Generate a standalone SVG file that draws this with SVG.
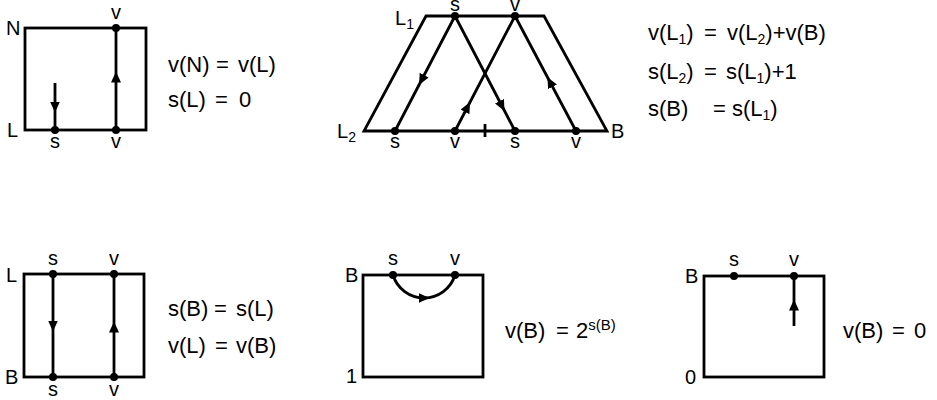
<svg xmlns="http://www.w3.org/2000/svg" width="937" height="400" viewBox="0 0 937 400">
<defs>
<style>
.box{fill:none;stroke:#000;stroke-width:2.8;stroke-linejoin:miter}
.str{fill:none;stroke:#000;stroke-width:2.8}
.dot{fill:#000}
.lbl{font-family:"Liberation Sans",Arial,sans-serif;font-size:20px;fill:#000}
.eq{font-family:"Liberation Sans",Arial,sans-serif;font-size:22px;fill:#000}
.sub{font-size:14px}
.sup{font-size:15px}
</style>
<marker id="ah" markerUnits="userSpaceOnUse" markerWidth="12" markerHeight="10" refX="5.5" refY="5" orient="auto">
<path d="M0,0 L11,5 L0,10 z" fill="#000"/>
</marker>
</defs>
<rect x="0" y="0" width="937" height="400" fill="#fff"/>

<g id="panel-N-L">
<rect class="box" x="25" y="28" width="121" height="102"/>
<circle class="dot" cx="116" cy="28" r="4"/>
<circle class="dot" cx="116" cy="130" r="4"/>
<circle class="dot" cx="55" cy="130" r="4"/>
<text class="lbl" x="6" y="35">N</text>
<text class="lbl" x="7" y="137">L</text>
<text class="lbl" x="116" y="19" text-anchor="middle">v</text>
<text class="lbl" x="55" y="148" text-anchor="middle">s</text>
<text class="lbl" x="116" y="148" text-anchor="middle">v</text>
<text class="eq" x="168" y="72">v(N)</text><text class="eq" x="216" y="72">=</text><text class="eq" x="238" y="72">v(L)</text>
<text class="eq" x="168" y="107">s(L)</text><text class="eq" x="215" y="107">=</text><text class="eq" x="239" y="107">0</text>
</g>

<g id="panel-L1-L2-B">
<polygon class="box" points="426,16 544,16 607,131 364,131"/>
<line class="str" x1="485" y1="124" x2="485" y2="137" stroke-width="3"/>
<circle class="dot" cx="455" cy="16" r="4"/>
<circle class="dot" cx="515" cy="16" r="4"/>
<circle class="dot" cx="395" cy="131" r="4"/>
<circle class="dot" cx="455" cy="131" r="4"/>
<circle class="dot" cx="515" cy="131" r="4"/>
<circle class="dot" cx="576" cy="131" r="4"/>
<text class="lbl" x="395" y="25">L<tspan class="sub" dy="4">1</tspan></text>
<text class="lbl" x="337" y="138">L<tspan class="sub" dy="4">2</tspan></text>
<text class="lbl" x="611" y="138">B</text>
<text class="lbl" x="455" y="11" text-anchor="middle">s</text>
<text class="lbl" x="515" y="11" text-anchor="middle">v</text>
<text class="lbl" x="395" y="148" text-anchor="middle">s</text>
<text class="lbl" x="455" y="148" text-anchor="middle">v</text>
<text class="lbl" x="515" y="148" text-anchor="middle">s</text>
<text class="lbl" x="576" y="148" text-anchor="middle">v</text>
<text class="eq" x="648" y="40">v(L<tspan class="sub" dy="4">1</tspan><tspan dy="-4">)</tspan></text>
<text class="eq" x="704" y="40">=</text>
<text class="eq" x="727" y="40">v(L<tspan class="sub" dy="4">2</tspan><tspan dy="-4">)+v(B)</tspan></text>
<text class="eq" x="648" y="79">s(L<tspan class="sub" dy="4">2</tspan><tspan dy="-4">)</tspan></text>
<text class="eq" x="704" y="79">=</text>
<text class="eq" x="726" y="79">s(L<tspan class="sub" dy="4">1</tspan><tspan dy="-4">)+1</tspan></text>
<text class="eq" x="648" y="116">s(B)</text>
<text class="eq" x="713" y="116">=</text>
<text class="eq" x="732" y="116">s(L<tspan class="sub" dy="4">1</tspan><tspan dy="-4">)</tspan></text>
</g>

<g id="panel-L-B">
<rect class="box" x="24" y="274" width="120" height="103"/>
<circle class="dot" cx="53" cy="274" r="4"/>
<circle class="dot" cx="114" cy="274" r="4"/>
<circle class="dot" cx="53" cy="377" r="4"/>
<circle class="dot" cx="114" cy="377" r="4"/>
<text class="lbl" x="6" y="282">L</text>
<text class="lbl" x="5" y="384">B</text>
<text class="lbl" x="53" y="265" text-anchor="middle">s</text>
<text class="lbl" x="114" y="265" text-anchor="middle">v</text>
<text class="lbl" x="53" y="396" text-anchor="middle">s</text>
<text class="lbl" x="114" y="396" text-anchor="middle">v</text>
<text class="eq" x="168" y="316">s(B)</text><text class="eq" x="214" y="316">=</text><text class="eq" x="236" y="316">s(L)</text>
<text class="eq" x="168" y="353">v(L)</text><text class="eq" x="215" y="353">=</text><text class="eq" x="236" y="353">v(B)</text>
</g>

<g id="panel-B-1">
<rect class="box" x="363" y="275" width="120" height="102"/>
<circle class="dot" cx="393" cy="275" r="4"/>
<circle class="dot" cx="455" cy="275" r="4"/>
<text class="lbl" x="345" y="282">B</text>
<text class="lbl" x="346" y="383">1</text>
<text class="lbl" x="393" y="265" text-anchor="middle">s</text>
<text class="lbl" x="455" y="265" text-anchor="middle">v</text>
<text class="eq" x="505" y="338">v(B)</text><text class="eq" x="556" y="338">=</text>
<text class="eq" x="576" y="338">2<tspan class="sup" dy="-8">s(B)</tspan></text>
</g>

<g id="panel-B-0">
<rect class="box" x="704" y="276" width="120" height="101"/>
<circle class="dot" cx="734" cy="276" r="4"/>
<circle class="dot" cx="794" cy="276" r="4"/>
<text class="lbl" x="685" y="283">B</text>
<text class="lbl" x="685" y="384">0</text>
<text class="lbl" x="734" y="266" text-anchor="middle">s</text>
<text class="lbl" x="794" y="266" text-anchor="middle">v</text>
<text class="eq" x="843" y="338">v(B)</text><text class="eq" x="892" y="338">=</text><text class="eq" x="914" y="338">0</text>
</g>

<g id="connectors">
<path class="str" marker-mid="url(#ah)" d="M116,130 L116,77 L116,28"/>
<path class="str" marker-mid="url(#ah)" d="M55,83 L55,107 L55,130"/>
<path class="str" marker-mid="url(#ah)" d="M455,16 L421.6,80 L395,131"/>
<path class="str" marker-mid="url(#ah)" d="M455,16 L502,106 L515,131"/>
<path class="str" marker-mid="url(#ah)" d="M455,131 L467.5,107 L515,16"/>
<path class="str" marker-mid="url(#ah)" d="M576,131 L550,82 L515,16"/>
<path class="str" marker-mid="url(#ah)" d="M53,274 L53,326 L53,377"/>
<path class="str" marker-mid="url(#ah)" d="M114,377 L114,327 L114,274"/>
<path class="str" marker-mid="url(#ah)" d="M393,275 A32.4,32.4 0 0 0 424,298 A32.4,32.4 0 0 0 455,275"/>
<path class="str" marker-mid="url(#ah)" d="M794,326 L794,305 L794,276"/>
</g>
</svg>
